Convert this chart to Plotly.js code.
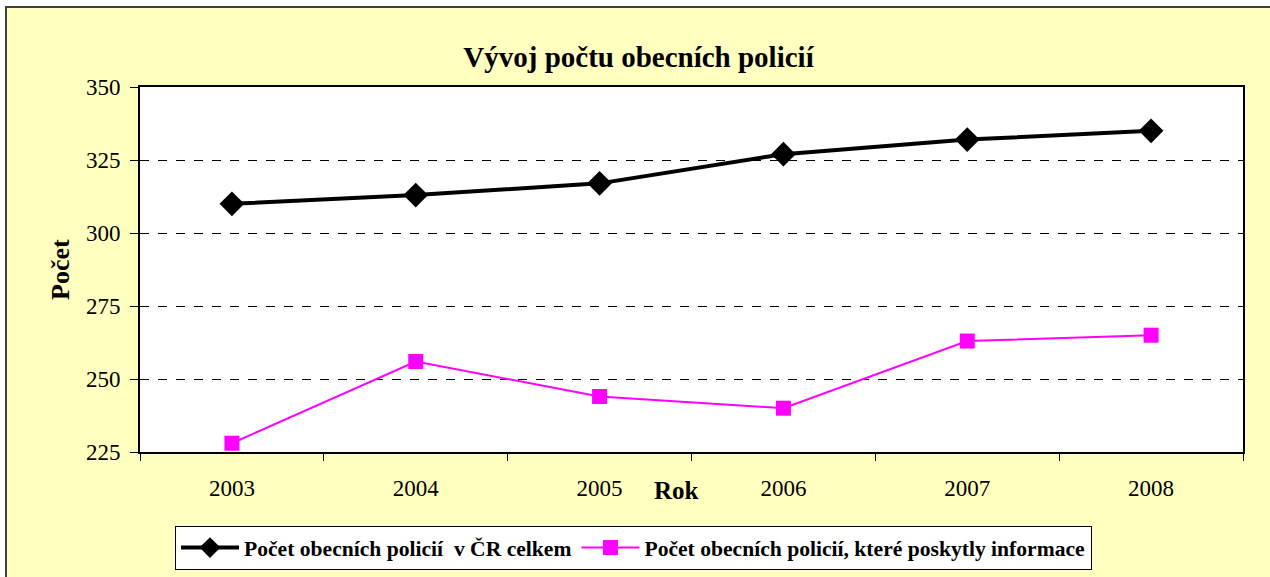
<!DOCTYPE html>
<html>
<head>
<meta charset="utf-8">
<script src="https://cdn.plot.ly/plotly-3.0.1.min.js"></script>
<style>
html,body{margin:0;padding:0;background:#ffffff;overflow:hidden;}
#wrap{position:absolute;left:5px;top:6px;width:1265px;height:571px;border-left:2px solid #404040;border-top:2px solid #404040;background:#FFFFC0;}
#chart{width:1263px;height:569px;}
</style>
</head>
<body>
<div id="wrap"><div id="chart"></div></div>
<script>
const years = ['2003','2004','2005','2006','2007','2008'];
const totalPolice = [310, 313, 317, 327, 332, 335];
const reportingPolice = [228, 256, 244, 240, 263, 265];
const seriesNames = ['Počet obecních policií\u00a0 v ČR celkem', 'Počet obecních policií, které poskytly informace'];
const yTicks = [225, 250, 275, 300, 325, 350];

const serif = "'Liberation Serif', 'Times New Roman', serif";

const traces = [
  {
    x: years, y: totalPolice, type: 'scatter', mode: 'lines+markers', name: seriesNames[0],
    line: {color: '#000000', width: 4},
    marker: {symbol: 'diamond', size: 19, color: '#000000'}
  },
  {
    x: years, y: reportingPolice, type: 'scatter', mode: 'lines+markers', name: seriesNames[1],
    line: {color: '#FF00FF', width: 2},
    marker: {symbol: 'square', size: 15, color: '#FF00FF'}
  }
];

const layout = {
  width: 1263, height: 569,
  paper_bgcolor: '#FFFFC0',
  plot_bgcolor: '#FFFFFF',
  margin: {l: 133, r: 27, t: 79, b: 125},
  font: {family: serif, size: 23, color: '#000000'},
  title: {
    text: '<b>Vývoj počtu obecních policií</b>',
    font: {family: serif, size: 29, color: '#000000'},
    xref: 'container', x: 0.5, xanchor: 'center',
    yref: 'container', y: 1 - 49/569, yanchor: 'middle'
  },
  xaxis: {
    type: 'category', range: [-0.5, 5.5],
    showgrid: false, zeroline: false,
    showline: true, linecolor: '#000000', linewidth: 2, mirror: true,
    ticks: 'outside', ticklen: 7, tickcolor: '#000000', tickwidth: 1,
    tickson: 'boundaries', ticklabelstandoff: 14,
    tickfont: {family: serif, size: 23, color: '#000000'}
  },
  yaxis: {
    range: [225, 350], tickvals: yTicks, ticktext: yTicks.map(String),
    showgrid: true, gridcolor: '#000000', gridwidth: 1, griddash: 'dash',
    zeroline: false,
    showline: true, linecolor: '#000000', linewidth: 2, mirror: true,
    ticks: 'outside', ticklen: 8, tickcolor: '#000000', tickwidth: 1,
    ticklabelstandoff: 5,
    tickfont: {family: serif, size: 23, color: '#000000'}
  },
  showlegend: true,
  legend: {
    orientation: 'h',
    xref: 'container', x: 168/1263, xanchor: 'left',
    yref: 'container', y: 1 - 518/569, yanchor: 'top',
    bgcolor: '#FFFFFF', bordercolor: '#000000', borderwidth: 1,
    font: {family: serif, size: 21.6, color: '#000000', weight: 'bold'},
    itemwidth: 58, tracegroupgap: 0
  },
  annotations: [
    {text: '<b>Rok</b>', xref: 'paper', yref: 'paper', x: (669-133)/1103, y: -(483-444)/365,
     showarrow: false, xanchor: 'center', yanchor: 'middle', font: {family: serif, size: 25, color: '#000000'}},
    {text: '<b>Počet</b>', xref: 'paper', yref: 'paper', x: -(133-53)/1103, y: (444-262)/365,
     showarrow: false, textangle: -90, xanchor: 'center', yanchor: 'middle', font: {family: serif, size: 26, color: '#000000'}}
  ]
};

Plotly.newPlot('chart', traces, layout, {displayModeBar: false, staticPlot: true});
</script>
</body>
</html>
